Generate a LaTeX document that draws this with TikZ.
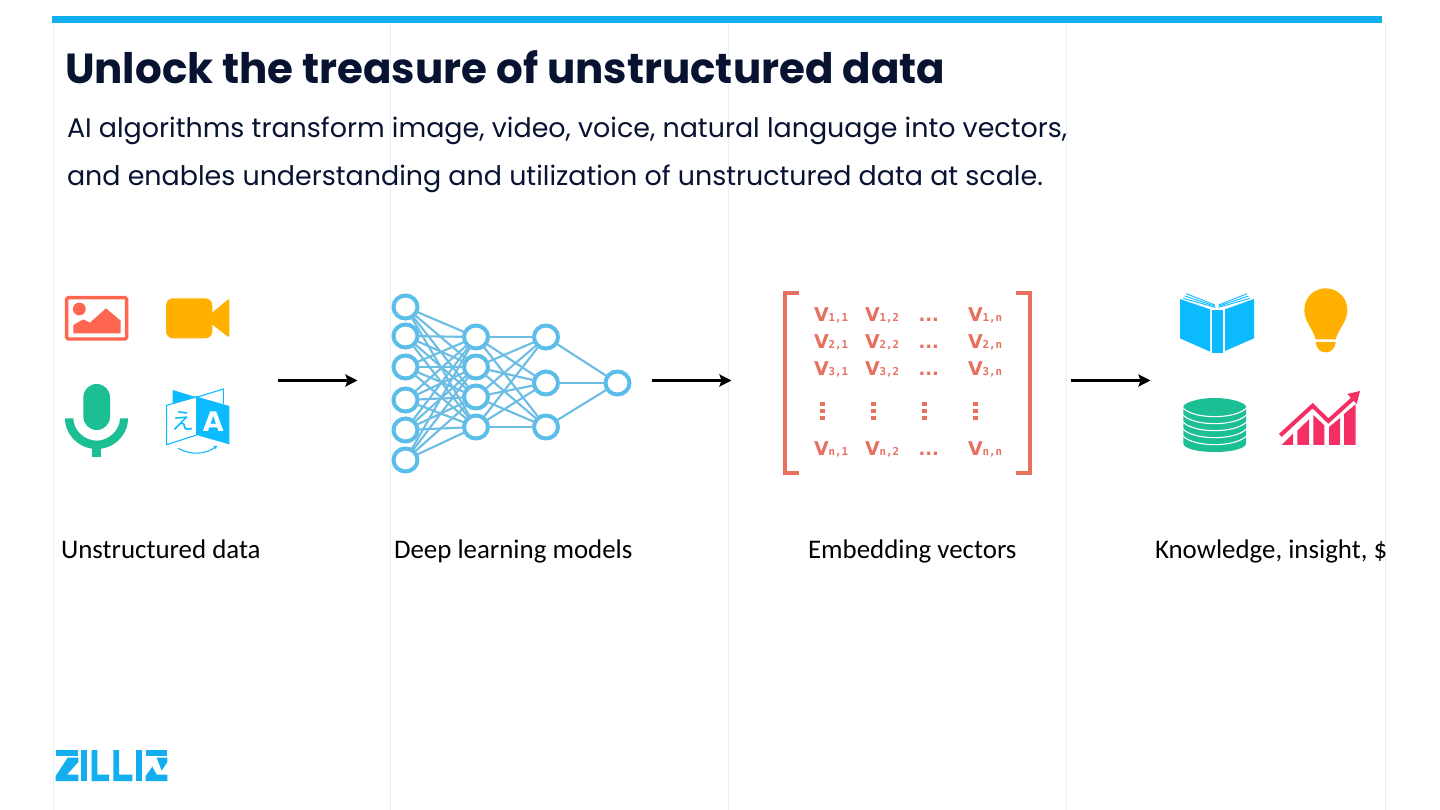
\documentclass[tikz,border=0pt]{standalone}
\usepackage{fontspec}
\usetikzlibrary{arrows.meta,shapes.geometric}
\setmainfont{Carlito}
\newfontfamily\popf{Poppins}
\newfontfamily\dvs{DejaVu Sans}
\newfontfamily\dvm{DejaVu Sans Mono}
\newfontfamily\cjkf{Noto Sans CJK JP}
\definecolor{guide}{HTML}{E6F2F8}
\definecolor{topbar}{HTML}{10B0EE}
\definecolor{inkc}{HTML}{071331}
\definecolor{netc}{HTML}{5BBEEA}
\definecolor{netl}{HTML}{6CBDE3}
\definecolor{matc}{HTML}{E8705F}
\definecolor{imgc}{HTML}{FF6650}
\definecolor{ambc}{HTML}{FFB000}
\definecolor{grnc}{HTML}{1CBF93}
\definecolor{bluc}{HTML}{0CBBFF}
\definecolor{pnkc}{HTML}{F42F63}
\definecolor{logoc}{HTML}{12AEEE}
\tikzset{
  txt/.style={anchor=base west,inner sep=0pt,outer sep=0pt},
  titlet/.style={txt,text=inkc,font=\popf\bfseries\fontsize{42}{42}\selectfont},
  subt/.style={txt,text=inkc,font=\popf\fontsize{26.9}{26.9}\selectfont},
  labelt/.style={txt,text=black,font=\fontsize{26.9}{26.9}\selectfont},
  neuron/.style={ellipse,draw=netc,fill=white,line width=4pt,minimum width=24pt,minimum height=23pt,inner sep=0pt,outer sep=0pt},
  synapse/.style={draw=netl,line width=2.1pt},
  flow/.style={draw=black,line width=3.6pt,-{Stealth[length=12pt,width=12pt,inset=2pt]}},
  bracket/.style={draw=matc,line width=3.6pt},
  cellt/.style={txt,text=matc},
}
\newcommand{\vcell}[4]{\node[cellt] (v#1) at (#2,#3) {{\dvs\bfseries\fontsize{19}{19}\selectfont V}{\dvm\bfseries\fontsize{10.8}{10.8}\selectfont #4}};}
\newcommand{\dcell}[3]{\node[cellt] (d#1) at (#2,#3) {\dvs\bfseries\fontsize{18}{18}\selectfont ...};}
\begin{document}
\begin{tikzpicture}[x=1pt,y=-1pt]
\useasboundingbox (0,0) rectangle (1440,810);
\fill[white] (0,0) rectangle (1440,810);
% guides
\foreach \gx in {53,390,728,1066,1385} \draw[guide,line width=1pt] (\gx,23) -- (\gx,810);
\fill[topbar] (52,16) rectangle (1382,23);
% heading
\node[titlet] (title) at (65,84) {Unlock the treasure of unstructured data};
\node[subt] (sub1) at (67,138) {AI algorithms transform image, video, voice, natural language into vectors,};
\node[subt] (sub2) at (67,186) {and enables understanding and utilization of unstructured data at scale.};
% image icon
\begin{scope}[shift={(50,280)},x=0.33333pt,y=-0.33333pt]
\draw[imgc,line width=3.4pt,rounded corners=1.5pt] (50,53) rectangle (230,177);
\fill[imgc] (88,87) circle[radius=6.4pt];
\fill[imgc] (70,160) -- (70,135) -- (100,118) -- (120,128) -- (168,85) -- (212,122) -- (212,160) -- cycle;
% video icon
\fill[ambc,rounded corners=7pt] (348,55) rectangle (487,175);
\fill[ambc,rounded corners=1.5pt] (482,102) -- (538,55) -- (538,173) -- (482,130) -- cycle;
% mic
\fill[grnc,rounded corners=13.3pt] (100,312) rectangle (180,450);
\fill[grnc] (45,415) -- (70,415) .. controls (70,451) and (104,482) .. (140,482) .. controls (176,482) and (210,451) .. (210,415) -- (234,415) .. controls (234,465) and (192,507) .. (140,507) .. controls (88,507) and (45,465) .. (45,415) -- cycle;
\fill[grnc] (127,495) rectangle (153,532);
% translate
\fill[bluc] (368,330) -- (440,352) -- (368,372) -- cycle;
\draw[bluc,line width=1.1pt] (440,352) -- (520,327) -- (520,372);
\draw[bluc,line width=1.1pt] (350,376) -- (440,350) -- (440,465) -- (350,494) -- cycle;
\fill[bluc] (440,350) -- (538,378) -- (538,493) -- (440,465) -- cycle;
\node[inner sep=0pt,text=white,font=\dvs\bfseries\fontsize{27}{27}\selectfont] (tra) at (490,425) {A};
\node[inner sep=0pt,text=bluc,font=\cjkf\fontsize{23}{23}\selectfont] (trb) at (398,424) {え};
\draw[bluc,line width=1.1pt,-{Stealth[length=4pt,width=4pt]}] (385,505) .. controls (420,525) and (465,525) .. (502,497);
\end{scope}
% arrows coordinates
\coordinate (a1s) at (278,380.5); \coordinate (a1e) at (357.5,380.5);
\coordinate (a2s) at (652,380.5); \coordinate (a2e) at (731.5,380.5);
\coordinate (a3s) at (1071,380.5); \coordinate (a3e) at (1150.5,380.5);
\draw[flow] (a1s) -- (a1e);
\draw[flow] (a2s) -- (a2e);
\draw[flow] (a3s) -- (a3e);
% network
\foreach \n/\y in {1/307,2/336,3/367,4/400,5/430,6/460} \node[neuron] (a\n) at (405.5,\y) {};
\foreach \n/\y in {1/337,2/367,3/397,4/427} \node[neuron] (b\n) at (476,\y) {};
\foreach \n/\y in {1/337,2/383,3/427} \node[neuron] (c\n) at (546,\y) {};
\node[neuron] (d) at (617.5,383) {};
\foreach \i in {1,...,6} \foreach \j in {1,...,4} \draw[synapse] (a\i) -- (b\j);
\foreach \i in {1,...,4} \foreach \j in {1,...,3} \draw[synapse] (b\i) -- (c\j);
\foreach \i in {1,...,3} \draw[synapse] (c\i) -- (d);
% matrix
\draw[bracket] (799,293) -- (784.8,293) -- (784.8,473) -- (799,473);
\draw[bracket] (1016,293) -- (1030,293) -- (1030,473) -- (1016,473);
\vcell{a1}{814}{321}{1,1}\vcell{a2}{865}{321}{1,2}\dcell{a}{918.5}{321}\vcell{an}{968}{321}{1,n}
\vcell{b1}{814}{348}{2,1}\vcell{b2}{865}{348}{2,2}\dcell{b}{918.5}{348}\vcell{bn}{968}{348}{2,n}
\vcell{c1}{814}{375}{3,1}\vcell{c2}{865}{375}{3,2}\dcell{c}{918.5}{375}\vcell{cn}{968}{375}{3,n}
\vcell{n1}{814}{455}{n,1}\vcell{n2}{865}{455}{n,2}\dcell{n}{918.5}{455}\vcell{nn}{968}{455}{n,n}
\foreach \dx in {822.3,873.3,924.3,975.3} \foreach \dy in {404,411,418}
  \fill[matc] (\dx-2.4,\dy-1.7) rectangle (\dx+2.4,\dy+1.7);
% outcome icons
\begin{scope}[shift={(1170,280)},x=0.33333pt,y=-0.33333pt]
\fill[bluc] (30,57) -- (120,88) -- (120,215) -- (30,175) -- cycle;
\fill[bluc] (126,90) -- (160,90) -- (160,218) -- (126,218) -- cycle;
\fill[bluc] (165,88) -- (252,57) -- (252,175) -- (165,213) -- cycle;
\foreach \o in {0,7,14} {
  \draw[bluc,line width=0.9pt] (40+\o*0.6,55-\o) -- (135,82-\o*0.5);
  \draw[bluc,line width=0.9pt] (146,82-\o*0.5) -- (240-\o*0.6,55-\o);
}
\fill[ambc] (437,178) .. controls (428,145) and (403,125) .. (403,90) .. controls (403,52) and (432,25) .. (467,25) .. controls (502,25) and (532,52) .. (532,90) .. controls (532,125) and (506,145) .. (497,178) -- cycle;
\fill[ambc] (437,186) -- (497,186) .. controls (495,205) and (485,217) .. (467,217) .. controls (449,217) and (439,205) .. (437,186) -- cycle;
\fill[grnc] (40,380) .. controls (40,370) and (80,354) .. (134,354) .. controls (188,354) and (228,370) .. (228,380) -- (228,490) .. controls (228,505) and (188,516) .. (134,516) .. controls (80,516) and (40,505) .. (40,490) -- cycle;
\foreach \ly in {383,404,425,446,467} \draw[white,line width=1.1pt] (38,\ly) .. controls (70,\ly+36) and (198,\ly+36) .. (230,\ly);
\fill[pnkc] (335,495) -- (369,461) -- (369,495) -- cycle;
\fill[pnkc] (382,495) -- (382,452) -- (417,418) -- (417,495) -- cycle;
\fill[pnkc] (430,495) -- (430,405) -- (463,436) -- (463,495) -- cycle;
\fill[pnkc] (477,495) -- (477,441) -- (510,414) -- (510,495) -- cycle;
\fill[pnkc] (522,495) -- (522,402) -- (557,373) -- (557,495) -- cycle;
\draw[pnkc,line width=4pt] (331,466) -- (428,377) -- (475,423) -- (550,355);
\fill[pnkc] (532,342) -- (570,333) -- (560,372) -- cycle;
\end{scope}
% labels
\node[labelt] (l1) at (61,558) {Unstructured data};
\node[labelt] (l2) at (394,558) {Deep learning models};
\node[labelt] (l3) at (808,558) {Embedding vectors};
\node[labelt] (l4) at (1155,558) {Knowledge, insight, \$};
% logo
\begin{scope}[shift={(45,740)},x=0.33333pt,y=-0.33333pt]
\fill[logoc] (32,30) rectangle (100,48);
\fill[logoc] (100,53) -- (68,53) -- (32,108) -- (32,123) -- (100,123) -- (100,104) -- (66,104) -- (100,66) -- cycle;
\fill[logoc] (108,30) rectangle (126,123);
\fill[logoc] (140,30) -- (157,30) -- (157,104) -- (192,104) -- (192,123) -- (140,123) -- cycle;
\fill[logoc] (205,30) -- (222,30) -- (222,104) -- (262,104) -- (262,123) -- (205,123) -- cycle;
\fill[logoc] (274,30) rectangle (292,123);
\fill[logoc] (302,30) rectangle (367,48);
\fill[logoc] (335,53) -- (367,53) -- (367,66) -- (350,92) -- cycle;
\fill[logoc] (302,123) -- (302,108) -- (322,80) -- (335,104) -- (367,104) -- (367,123) -- cycle;
\end{scope}
\end{tikzpicture}
\end{document}
